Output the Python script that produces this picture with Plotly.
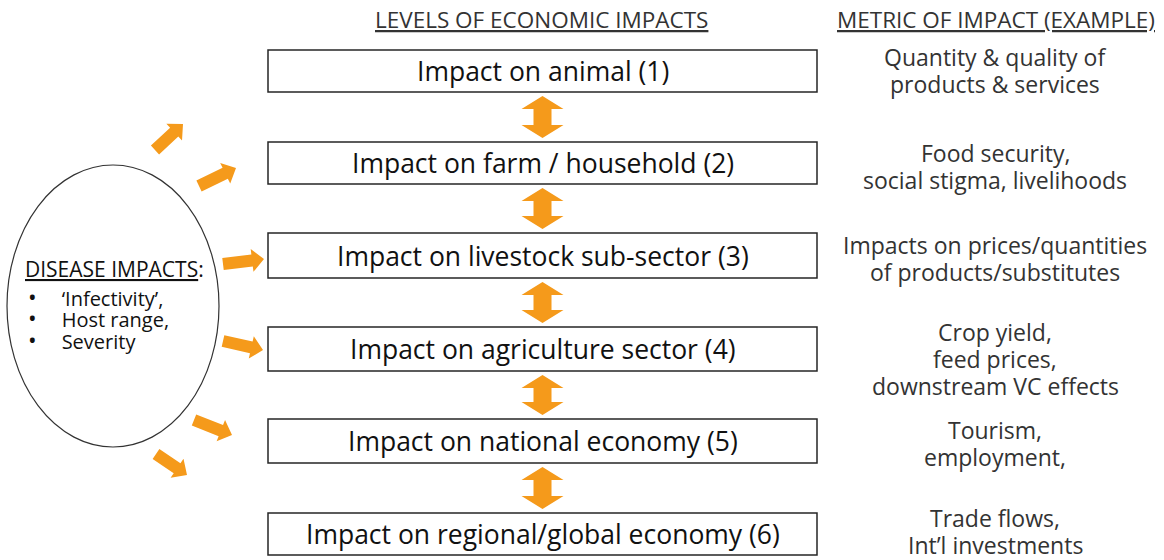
import math
import plotly.graph_objects as go

# ---------------- data ----------------
header_levels = "LEVELS OF ECONOMIC IMPACTS"
header_metric = "METRIC OF IMPACT (EXAMPLE)"

level_labels = [
    "Impact on animal (1)",
    "Impact on farm / household (2)",
    "Impact on livestock sub-sector (3)",
    "Impact on agriculture sector (4)",
    "Impact on national economy (5)",
    "Impact on regional/global economy (6)",
]

metric_labels = [
    ["Quantity & quality of", "products & services"],
    ["Food security,", "social stigma, livelihoods"],
    ["Impacts on prices/quantities", "of products/substitutes"],
    ["Crop yield,", "feed prices,", "downstream VC effects"],
    ["Tourism,", "employment,"],
    ["Trade flows,", "Int\u2019l investments"],
]

disease_heading = "DISEASE IMPACTS"
disease_items = ["\u2018Infectivity\u2019,", "Host range,", "Severity"]

# ---------------- layout constants ----------------
W, H = 1164, 560
FONT = "Open Sans"
ORANGE = "#F59A1B"
BOX_X0, BOX_X1 = 268, 817
box_tops = [50, 142, 233, 327, 419, 513]
box_bots = [92, 184, 278, 371, 463, 555]
metric_first_y = [57, 153, 245, 332, 430, 518]
METRIC_LINE = 26.8
METRIC_X = 995

# ellipse
EX0, EX1, EY0, EY1 = 7, 219, 165, 447

# outward arrows (tail -> tip)
out_arrows = [
    ((155, 150), (183, 124)),
    ((199, 186), (236, 168)),
    ((223, 264), (264, 259)),
    ((223, 341), (263, 350)),
    ((194, 420), (232, 435)),
    ((156, 454), (187, 475)),
]

shapes = []
annotations = []


def poly_path(pts):
    return "M " + " L ".join(f"{x:.2f},{y:.2f}" for x, y in pts) + " Z"


def block_arrow(tail, tip, shaft_w, head_w, head_l):
    tx, ty = tail
    px, py = tip
    dx, dy = px - tx, py - ty
    L = math.hypot(dx, dy)
    ux, uy = dx / L, dy / L
    nx, ny = -uy, ux
    bx, by = px - ux * head_l, py - uy * head_l
    s, h = shaft_w / 2, head_w / 2
    return [
        (tx + nx * s, ty + ny * s),
        (bx + nx * s, by + ny * s),
        (bx + nx * h, by + ny * h),
        (px, py),
        (bx - nx * h, by - ny * h),
        (bx - nx * s, by - ny * s),
        (tx - nx * s, ty - ny * s),
    ]


def double_arrow(cx, y0, y1, shaft_w, head_w, head_l):
    s, h = shaft_w / 2, head_w / 2
    return [
        (cx, y0),
        (cx + h, y0 + head_l),
        (cx + s, y0 + head_l),
        (cx + s, y1 - head_l),
        (cx + h, y1 - head_l),
        (cx, y1),
        (cx - h, y1 - head_l),
        (cx - s, y1 - head_l),
        (cx - s, y0 + head_l),
        (cx - h, y0 + head_l),
    ]


# boxes + labels
cx_box = (BOX_X0 + BOX_X1) / 2
for i, lab in enumerate(level_labels):
    shapes.append(dict(type="rect", xref="x", yref="y", x0=BOX_X0, x1=BOX_X1,
                       y0=box_tops[i], y1=box_bots[i],
                       line=dict(color="#262626", width=1.5), fillcolor="white"))
    annotations.append(dict(x=cx_box, y=(box_tops[i] + box_bots[i]) / 2, xref="x", yref="y",
                            text=lab, showarrow=False, xanchor="center", yanchor="middle",
                            font=dict(family=FONT, size=26.5, color="#111111")))

# double arrows between boxes
for i in range(len(level_labels) - 1):
    shapes.append(dict(type="path", xref="x", yref="y",
                       path=poly_path(double_arrow(cx_box, box_bots[i] + 4, box_tops[i + 1] - 4, 18, 42, 13)),
                       fillcolor=ORANGE, line=dict(width=0)))

# metric texts (one annotation per line)
for i, lines in enumerate(metric_labels):
    for j, ln in enumerate(lines):
        annotations.append(dict(x=METRIC_X, y=metric_first_y[i] + j * METRIC_LINE, xref="x", yref="y",
                                text=ln, showarrow=False,
                                xanchor="center", yanchor="middle", align="center",
                                font=dict(family=FONT, size=23, color="#333333")))

# headers
annotations.append(dict(x=541, y=19, xref="x", yref="y", text=f"<u>{header_levels}</u>",
                        showarrow=False, xanchor="center", yanchor="middle",
                        font=dict(family=FONT, size=22.5, color="#333333")))
annotations.append(dict(x=996, y=19, xref="x", yref="y", text=f"<u>{header_metric}</u>",
                        showarrow=False, xanchor="center", yanchor="middle",
                        font=dict(family=FONT, size=22.5, color="#333333")))

# ellipse
shapes.append(dict(type="circle", xref="x", yref="y", x0=EX0, x1=EX1, y0=EY0, y1=EY1,
                   line=dict(color="#333333", width=1.2)))
annotations.append(dict(x=23, y=269, xref="x", yref="y", text=f"<u>{disease_heading}</u>:",
                        showarrow=False, xanchor="left", yanchor="middle",
                        font=dict(family=FONT, size=21, color="#111111")))
# bullet list as one block: base font sets the tight line spacing, spans set glyph size
item_lines = [
    '<span style="font-size:23px">\u2022</span>'
    '<span style="font-size:20px">\u2003\u2005' + it + '</span>'
    for it in disease_items
]
annotations.append(dict(x=26, y=318.5, xref="x", yref="y", text="<br>".join(item_lines),
                        showarrow=False, xanchor="left", yanchor="middle", align="left",
                        font=dict(family=FONT, size=16.5, color="#111111")))

# outward arrows
for tail, tip in out_arrows:
    shapes.append(dict(type="path", xref="x", yref="y",
                       path=poly_path(block_arrow(tail, tip, 12, 23, 12)),
                       fillcolor=ORANGE, line=dict(width=0)))

fig = go.Figure()
fig.add_trace(go.Scatter(x=[0, W], y=[0, H], mode="markers",
                         marker=dict(opacity=0), hoverinfo="skip", showlegend=False))
fig.update_layout(
    width=W, height=H, margin=dict(l=0, r=0, t=0, b=0),
    paper_bgcolor="white", plot_bgcolor="white",
    xaxis=dict(range=[0, W], visible=False, fixedrange=True),
    yaxis=dict(range=[H, 0], visible=False, fixedrange=True),
    shapes=shapes, annotations=annotations, showlegend=False,
)
fig.write_html("out.html", config={"displayModeBar": False},
               post_script="document.body.style.margin='0';document.body.style.overflow='hidden';")
